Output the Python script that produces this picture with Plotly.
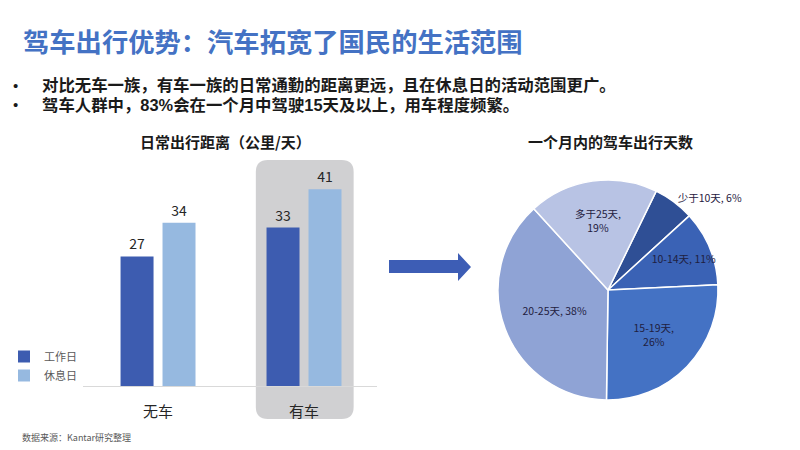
import plotly.graph_objects as go

W, H = 800, 450

# bar chart data
categories = ["无车", "有车"]
series_names = ["工作日", "休息日"]
workday = [27, 33]
restday = [34, 41]

# pie data
pie_labels = ["少于10天", "10-14天", "15-19天", "20-25天", "多于25天"]
pie_values = [6, 11, 26, 38, 19]
pie_seps = [", ", ", ", ",<br>", ", ", ",<br>"]

bullets = [
    "对比无车一族，有车一族的日常通勤的距离更远，且在休息日的活动范围更广。",
    "驾车人群中，83%会在一个月中驾驶15天及以上，用车程度频繁。",
]

FONT = "Noto Sans CJK SC"
# latin-first stack keeps the line box tight for the two bullet lines
TIGHT_FONT = "Liberation Sans, Noto Sans CJK SC"


def px_x(x):
    return x / W


def px_y(y):
    return 1 - y / H


# bar axis geometry (pixels)
AX_L, AX_R = 83, 377
X_RANGE = [-0.514, 1.5]


def cat_px(v):
    return AX_L + (v - X_RANGE[0]) / (X_RANGE[1] - X_RANGE[0]) * (AX_R - AX_L)


fig = go.Figure()

bar_colors = ["#3d5cb0", "#96b9e0"]
for name, vals, col in zip(series_names, [workday, restday], bar_colors):
    fig.add_trace(go.Bar(
        x=categories, y=vals, name=name,
        marker=dict(color=col, line=dict(width=0)),
        text=vals, textposition="outside",
        textfont=dict(size=14, color="#262626", family=FONT),
        cliponaxis=False,
    ))

pie_text = [f"{l}{s}{v}%" for l, s, v in zip(pie_labels, pie_seps, pie_values)]
fig.add_trace(go.Pie(
    labels=pie_labels, values=pie_values, sort=False,
    direction="clockwise", rotation=26,
    domain=dict(x=[px_x(498), px_x(718)], y=[px_y(400), px_y(180)]),
    marker=dict(colors=["#2f4f95", "#3a62b5", "#4472c4", "#8fa3d5", "#b8c3e4"],
                line=dict(color="white", width=1.5)),
    text=pie_text, textinfo="text",
    textposition=["outside", "inside", "inside", "inside", "inside"],
    insidetextorientation="horizontal",
    textfont=dict(size=10.5, color="#1f2040", family=FONT),
    showlegend=False,
))

# rounded grey panel behind the 有车 group
x0, x1 = px_x(cat_px(1 - 0.33)), px_x(cat_px(1 + 0.34))
yb, yt = px_y(419), px_y(160)
rx, ry = 12 / W, 12 / H
panel = (f"M {x0+rx},{yb} L {x1-rx},{yb} Q {x1},{yb} {x1},{yb+ry} "
         f"L {x1},{yt-ry} Q {x1},{yt} {x1-rx},{yt} L {x0+rx},{yt} "
         f"Q {x0},{yt} {x0},{yt-ry} L {x0},{yb+ry} Q {x0},{yb} {x0+rx},{yb} Z")

arrow_pts = [(389, 260), (458, 260), (458, 253), (471, 267), (458, 281), (458, 273), (389, 273)]
arrow = "M " + " L ".join(f"{px_x(a)},{px_y(b)}" for a, b in arrow_pts) + " Z"

shapes = [
    dict(type="path", xref="paper", yref="paper", path=panel, layer="below",
         fillcolor="#d0d0d2", line=dict(width=0)),
    dict(type="path", xref="paper", yref="paper", path=arrow,
         fillcolor="#3d5db5", line=dict(width=0)),
]

annotations = [
    dict(text="<b>驾车出行优势：汽车拓宽了国民的生活范围</b>", x=px_x(21), y=px_y(40),
         xanchor="left", yanchor="middle", font=dict(size=26.3, color="#4472c4", family=FONT)),
    dict(text="<b>日常出行距离（公里/天）</b>", x=px_x(225), y=px_y(141),
         xanchor="center", yanchor="middle", font=dict(size=15, color="#1a1a1a", family=FONT)),
    dict(text="<b>一个月内的驾车出行天数</b>", x=px_x(610), y=px_y(141),
         xanchor="center", yanchor="middle", font=dict(size=15, color="#1a1a1a", family=FONT)),
    dict(text="数据来源：Kantar研究整理", x=px_x(20), y=px_y(437),
         xanchor="left", yanchor="middle", font=dict(size=9, color="#595959", family=FONT)),
]
for i, b in enumerate(bullets):
    yy = px_y(85 + 19.5 * i)
    annotations.append(dict(text="•", x=px_x(15), y=yy, xanchor="center", yanchor="middle",
                            font=dict(size=15, color="#1a1a1a", family=TIGHT_FONT)))
    annotations.append(dict(text=f"<b>{b}</b>", x=px_x(41), y=yy, xanchor="left",
                            yanchor="middle", borderpad=0,
                            font=dict(size=16.4, color="#1a1a1a", family=TIGHT_FONT)))
for a in annotations:
    a.update(xref="paper", yref="paper", showarrow=False)

fig.update_layout(
    width=W, height=H,
    margin=dict(l=0, r=0, t=0, b=0),
    paper_bgcolor="white", plot_bgcolor="rgba(0,0,0,0)",
    font=dict(family=FONT),
    barmode="group", bargap=0.425, bargroupgap=0.214,
    uniformtext=dict(minsize=10.5, mode="show"),
    xaxis=dict(domain=[px_x(AX_L), px_x(AX_R)], range=X_RANGE,
               showline=True, linecolor="#d9d9d9", linewidth=1,
               ticks="", showgrid=False, zeroline=False, ticklabelstandoff=12,
               tickfont=dict(size=15, color="#262626", family=FONT)),
    yaxis=dict(domain=[px_y(386), px_y(160)], range=[0, 47.08], visible=False),
    legend=dict(x=px_x(4), y=px_y(342), xanchor="left", yanchor="top",
                font=dict(size=11, color="#595959", family=FONT),
                itemwidth=30, bgcolor="rgba(0,0,0,0)", tracegroupgap=0),
    shapes=shapes,
    annotations=annotations,
)

# page body has a default 8px margin; drop it so the 800x450 figure fills the window
fig.write_html("out.html", config={"displayModeBar": False},
               post_script="document.body.style.margin='0';")
